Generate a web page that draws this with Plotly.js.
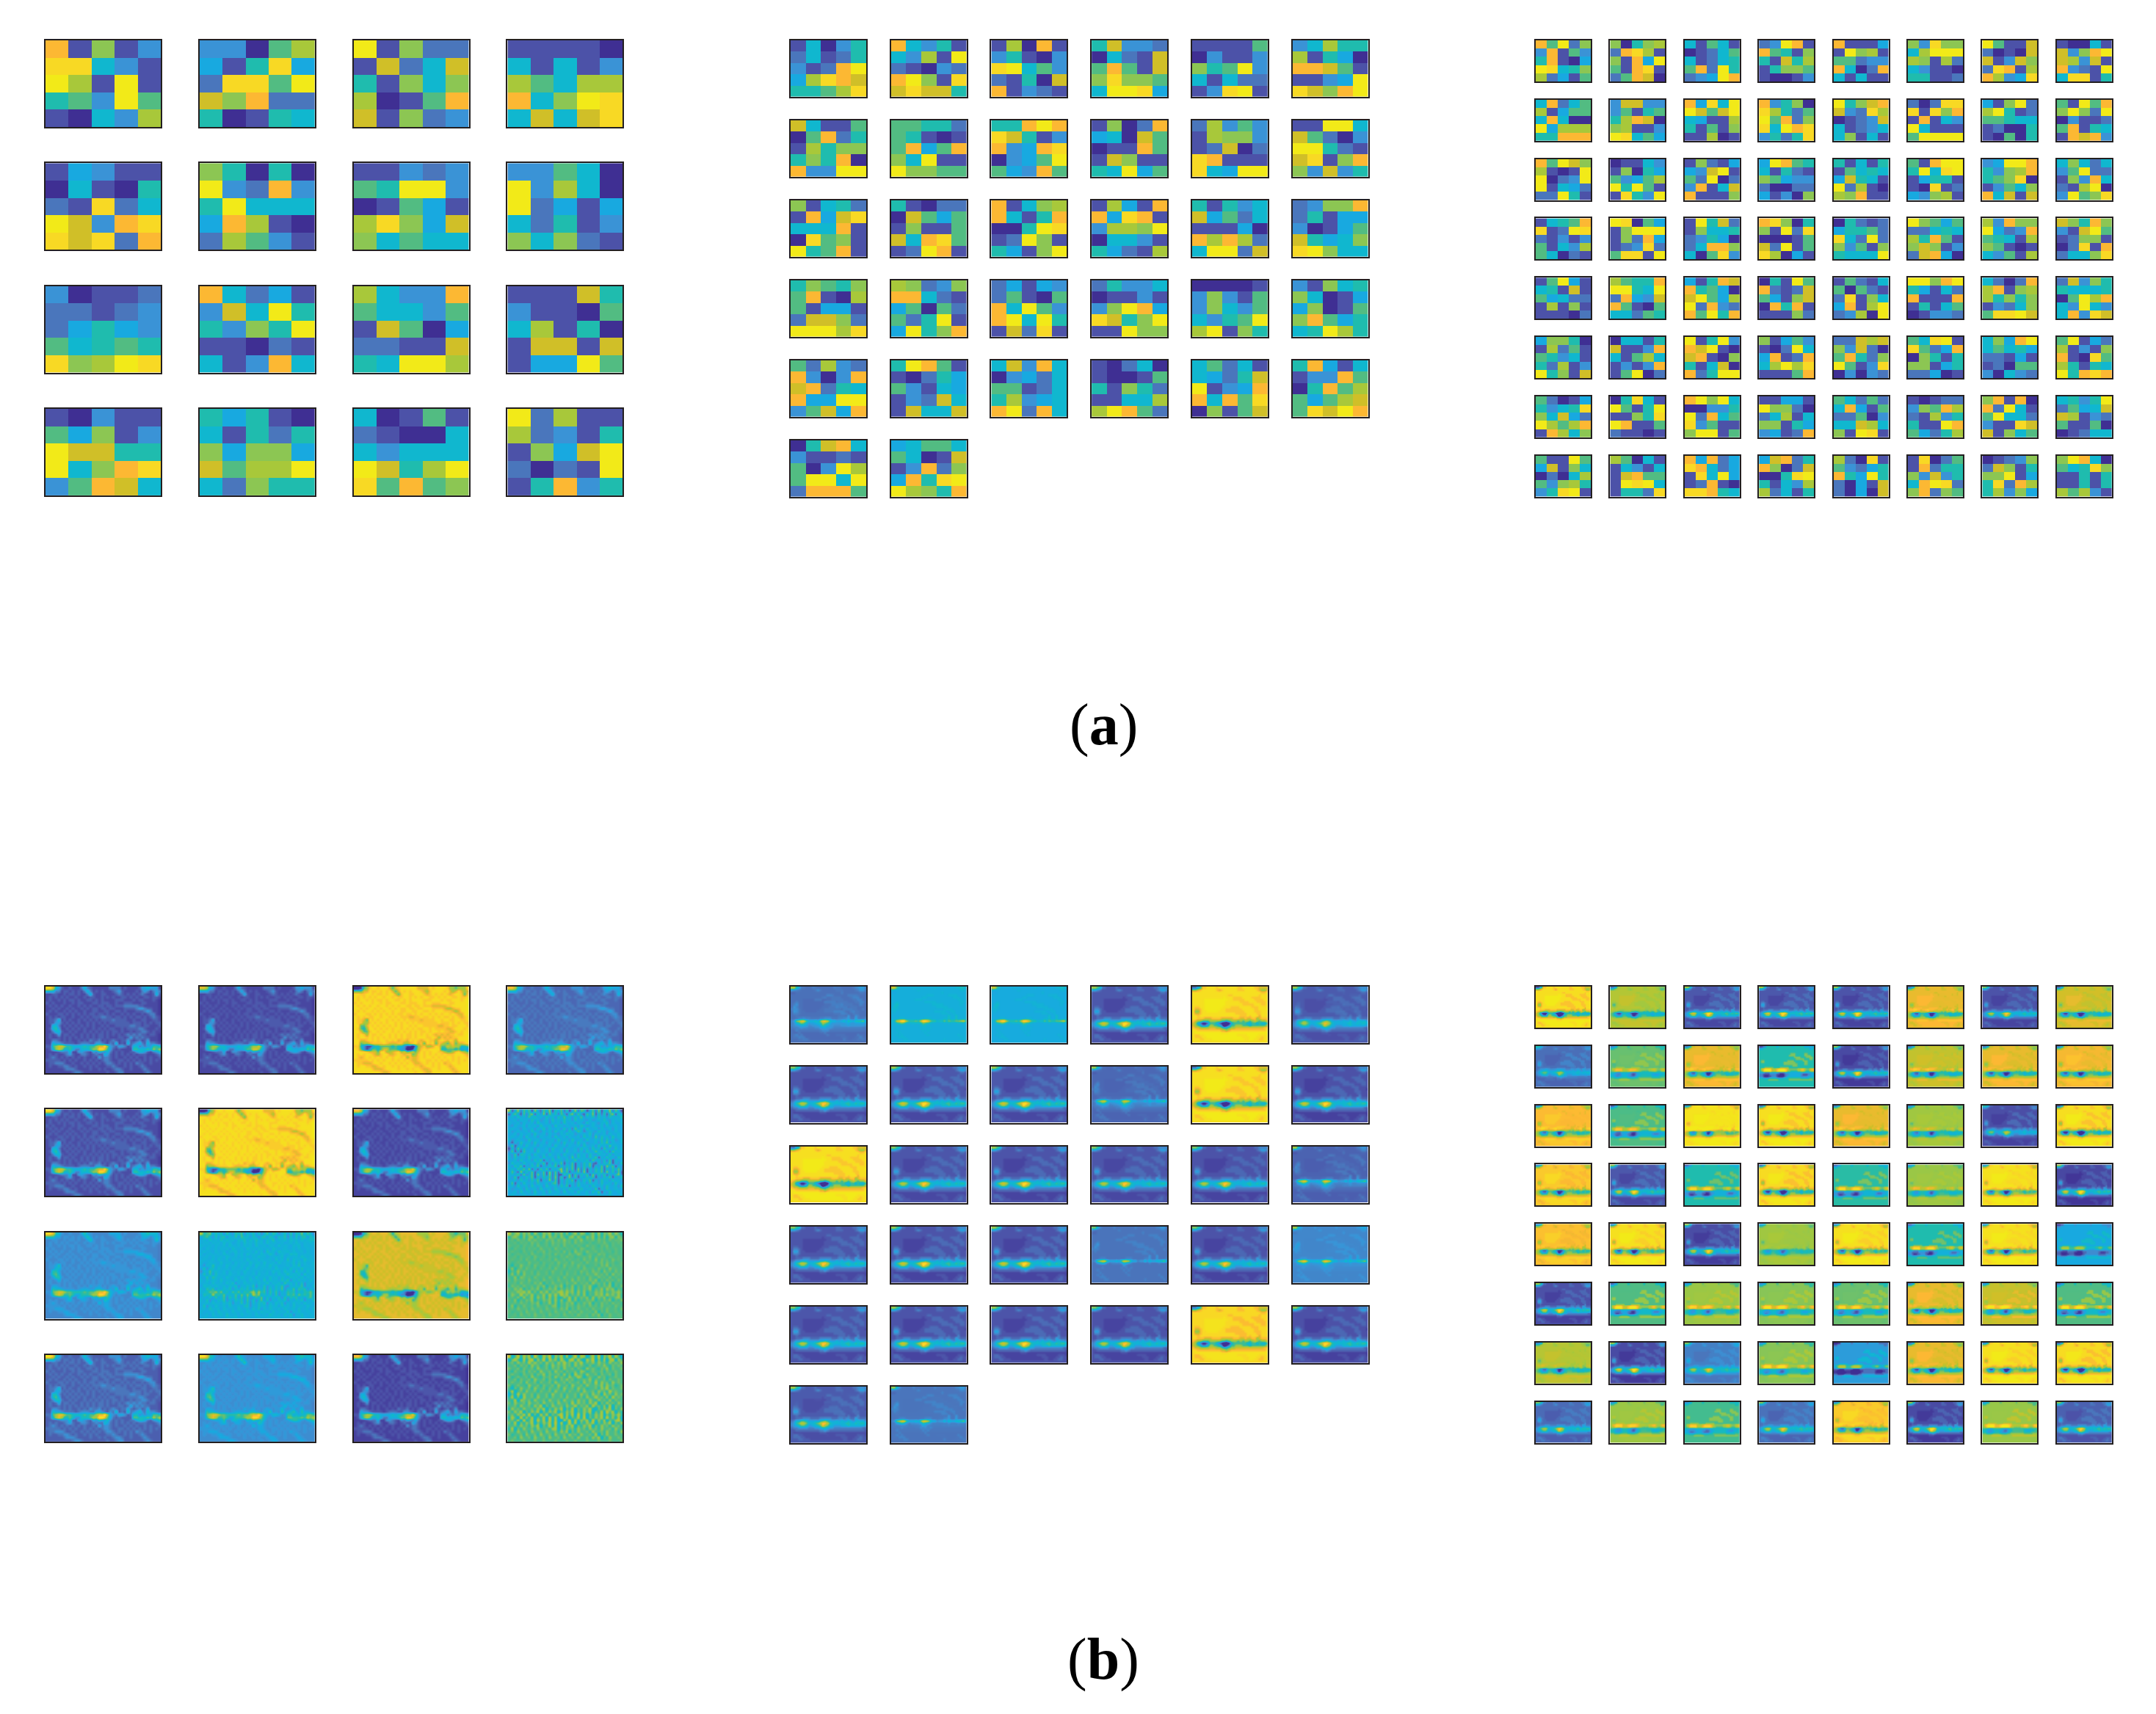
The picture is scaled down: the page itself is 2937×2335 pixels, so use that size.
<!DOCTYPE html>
<html>
<head>
<meta charset="utf-8">
<script src="https://cdn.plot.ly/plotly-3.0.1.min.js"></script>
<style>
    html, body { margin: 0; padding: 0; background: #fff; }
</style>
</head>
<body>
<div id="chart"></div>
<script>
// colour levels 0..13 (written as hex digits in the cell strings)
const levelColors = ['#3f2f93', '#4c52a8', '#4a76bc', '#3a93d6', '#18a9e0', '#10b7cf', '#1fbcae',
    '#52bc82', '#8cc653', '#a8c83a', '#d0bf28', '#fcb833', '#f8d924', '#f2ea18'];

// panel (a), 5x5 cells per tile
const leftCells = [
    'b1813 cc531 d91d1 673d7 10539', '33079 416c4 2cc7d a8b22 60165', 'd1822 1a25a 61858 9017b a1823', '11110 51513 97599 b58dc 5a5ac',
    '14311 05106 21c25 da3bc cac2b', '86060 d32b3 6d555 4b910 29731', '11323 76dd3 01741 9c84a 85755', '33750 d3950 d2414 52613 85821',
    '30112 22123 24643 75676 c89dc', 'b5241 3a5d6 6386d 11021 513b5', '9533b 75537 1a704 2211a 65dd9', '111a6 31107 59160 1aa1a 144d7',
    '10311 74813 daa66 d58bc 37ba5', '64610 51626 84884 a799d 52866', '50171 21005 53555 da69d c7b78', 'd2911 92316 184ad 2021d 16b36'
];
const midCells = [
    '15036 25126 312bd 49cba 6679c', 'b5361 5391d 21032 bd81c acaa6', '190b1 36103 cd573 2160a b1321', '6a332 0521a 7b71a 8c887 5ddc4', '11117 03113 867d3 51522 13cd1', '35966 91640 bba71 1134d ca8bd',
    'a5117 07b26 19688 686b0 b33dd', '77662 76101 7b47b 85d11 d8877', '66bdb ca613 b34bc 0347d 743b7', '1802b 450a7 011b7 1a811 65d47', '29373 19883 12a02 cb111 c54dd', '11dd5 a7203 dd621 ac18b 83a36',
    '81562 1b4ac 555b1 0c781 d67b1', '61022 0a747 18117 a5bc7 12db1', 'b1589 b516b 006dc 12d81 6418d', '194 1b b4cb1 39 98d 05531 64219',
    '61635 a4725 11140 b9b92 5dd2a', '2388b 26144 30147 a6458 cd855',
    '68768 7b109 71441 2aa82 ddd9c', '98238 bb521 47072 726d1 4d68b', '24143 27107 b5d73 bd5d6 1a2c1', '26335 01131 38db4 ca68d 11d88', '00001 38317 38537 5367d 9d186', '31856 85014 48017 8b746 56d96',
    '72932 b303b ab265 b44dd 37a4b', '6db71 10264 73154 132a5 1a55a', '5a3b5 03425 77125 69345 bd2b5', '10250 10017 61862 11559 9db72', '57251 5426a d134b b5b7c 0817a', '6b415 133b7 06b79 7479a 7cadb',
    '06ab5 31121 703d9 7dd5d 2bbb7', '45775 750 1a 13b28 4b6cd d986b'
].map(t => t.replace(/ /g, '').match(/.{5}/g).join(' '));
const rightCells = [
    'b7d28 3b173 6b104 dc568 92417', '806 89 2bc91 81b4d 71bc1 27ba0', '51751 01257 51256 7b2d6 234db', '23db1 b7618 61a69 16887 10013', 'b1114 1d891 77233 b502b 51511', '83c88 59ddd 98192 53110 66112', 'd711a 2010a a13a8 2cb19 b934c', '10051 a38bd a93a1 b321d 5cc16',
    '5b257 91477 5b500 d4999 66bbb', '3aa33 37167 69ba0 89113 dc574', 'b4c5d da7ad 54119 61718 11901', 'b3680 c9627 d7b28 c5dbc 3626c', 'd68ab a32c9 0123a 51235 58151', '202cc c1c8b 1b153 d5111 7dddd', '418d2 9d612 77655 12006 10706', '71d7b 8d82d 03112 7b165 1bab3',
    'b7da8 9101d d023d d1542 22d61', '01153 18064 73479 d6d71 1c63d', '18214 43ad1 72d02 3b15a b1118', '4db76 51621 87433 20022 41308', '61516 17565 4a651 d2910 98b11', '71bdd 6d5cd 14661 10c12 43891', '34ddb 6389b 678c0 13758 b5a1a', '58525 37d22 183b5 219d0 3d78c',
    '1567b c12dc 21313 71539 75021', 'dc074 18ddd 182b4 123c2 7cc1d', '1d6a2 18556 23640 25bb8 507c3', 'bc806 81d2c 00017 a2d17 c9041', '06212 46672 c52d2 83718 6555d', 'd8747 22565 96b71 8a813 2ab40', '93b88 d423b 76519 87101 53719', 'a86b8 31ad7 12881 02c1b 2558c',
    '17d41 561a1 74522 19181 11102', '9766b dd65d 2b43a b7107 55276', '416ba b6740 ad749 d2b32 b7d6b', '061d7 b212a 7418a 0b6b1 11182', '17215 70721 2c185 4b19d 2390d', 'dd8bd 64152 b111b 16157 01332', '5202b 9b189 96868 13258 7ccda', '2a386 65556 07d9b 53d53 5b3ca',
    '48860 19271 76351 6291 3 d681a', '05516 a113b 51795 1313b 17d02', 'd16d3 bad10 ab108 615a0 b26dd', '81473 1 02d5 4b12b 59d9c 11 17b', '22a9a 83a20 7b628 d713c 03032', '75cd1 c724b 08616 88146 22401', '584bd 57564 22141 12077 30532', '7d142 91318 b10c7 96165 d6bcb',
    '72014 6356c 85a42 d979b 1b958', '06c51 d716d 1186c db117 21101', 'bd8d5 00336 d2b57 c3711 8dd17', '11441 d8820 25915 88164 3412b', '75272 5b417 22703 55a95 81dc1', '10122 387b9 21936 611db 74269', '8b1b0 b2d51 7d552 311ca a1857', '5636d 2745a a9132 71170 01255',
    '711d7 4a185 02059 73896 36cd1', '97051 15315 1ab77 1dcd5 16 62c', 'b4b24 cb524 1c5d4 12b10 ccb65', '4ab26 b802a 006cd 61539 92516', '9 20c1 7324 6 b64d6 2041a 2040a', '1c027 1b266 83a36 5bdc2 8b287', '01238 2a816 88d14 6c2b9 69384', '8db50 756c8 11616 11616 97931'
].map(t => t.replace(/ /g, '').match(/.{5}/g).join(' '));

// panel (b), shared motifs read from the enlarged tiles (digit = strength)
const netRows = [
    '9985421121113532111111333312111124454441', '5553312212121353121211123421111213431343',
    '1122112122121135211221112321212123211252', '1212121211211212211212121122121211221221',
    '1211212122121122121211112221112122111210', '2121112112122111221222112112221112211110',
    '1212121121121212112212212223333322111110', '1121211212112121221221221112222344322110',
    '1212112121211211221122112212111222343110', '2111221212121212212212121121212112123310',
    '1212122112112121222332212212121221212321', '1223512121121212121222232222112112211221',
    '1224421212121121212121222222212221212122', '1155312121212121211212112222233221221112',
    '1256411212121211212121221121222233211121', '1135521121211212121212122121121223321211',
    '1212412212112121212212121212323232212210', '1211212121212121212212111221242323221110',
    '1133212121121213223121232122421231241110', '1154432222123332244321325121523453253321',
    '2267887665555656678897432443125534344665', '1257875565335556779986421211116655565767',
    '1111233351144321435435312121122455421345', '1212112342113321232254212121212122211123',
    '1232121212121211214233212112121211212112', '2222212121211212121233211221212121212121',
    '1223332112112121212123321212121322112111', '1211223321211212121112232112121123211111',
    '1111112333211112112121123321121112321111', '1111111112332111111112112331111111232111'
];
const rippleRows = [
    '8148274718427481647271482761472816482741', '1574172681638174627416827317481627168164',
    '4536453746453645364745364735463645364546', '4453545364534536454645364543534546435454',
    '5445354453644535453644535436454354635445', '4354453545364453645354453653454453544544',
    '4544354453546354453635274536445354453544', '5345445364435453645436447524543645344544',
    '4453544536445354435464534454635445354454', '4544536445354453644535445364537364536454',
    '5345443644535445364453644536445463645345', '4153644536445354453644536453445364735445',
    '3714536445354453644535445364453645374544', '1527364453544536445354453645364527453645',
    '3715174453644535445364453536447453627454', '4371654536445364453644536453643645363544',
    '5364453644536445364453736453647153645364', '4453644536471536445364473546274536271544',
    '3645364453647153647153715364721536471536', '5364715364715364715364715364715371847153',
    '4536472815173715368273718271536471536473', '3741826371537182718371537281536471836271',
    '4537182471837182710738172647182637153682', '5371536471536472817138271536471536471536',
    '4453645364715382715364715364715364536453', '3715364453644536715364536453645364453644',
    '4536445364453644536471536445364453644536', '5344536445364453644536453644537153644544',
    '4453644536445364453644536445364715364454', '4544454445445444544454454445444544454445'
];
const glowRows = [
    '77652211112111111112211111223333', '44321111112321111112221111123443',
    '11111111111111111111111111111221', '11111111111111122111111111112111',
    '11111111111110111222211112222111', '11111000000000011222221111222211',
    '11111000000000111111222211122221', '11111000000000111111122222111221',
    '12211000000001112222111112221111', '13321000000011222222211111221110',
    '14421100000111222222221111222111', '13321111111111111122222111122111',
    '11211111111111111111222121113111', '11222333222233333222332332243222',
    '23445554444455654445454454345443', '34678875556789986555555665565665',
    '34567764455679875544455565555554', '23344443334456654433333333333322',
    '11222222222233432222222222222221', '10000000000011100000000000000000',
    '12211000000000000001111000001110', '12221100000000000000011100011211',
    '11122111000000000000001100112211', '11111111111111111111111111111111'
];
const thinRows = [
    '77421111121111111121111111122331', '21111111111211111111111111111221',
    '00111111111111111111121111111111', '11111111111111122211111122221111',
    '11111111111112211111111111222111', '11111111112221111111111111112211',
    '11211111111111222221111111111221', '12311111111111111222221111111211',
    '13211111111111111112222211111111', '22211111111111111111112222111121',
    '12111111111111111122222112211111', '11111111111111111111122211211111',
    '11111111111111111111111131131111', '11122211111111222111112231131112',
    '23789964445479985442335354455674', '11345421222235432111111121112111',
    '11111111111113211111111111111111', '11112111111121212111111111111111',
    '11211111111112121111111111111111', '11121111111111211111111111111111',
    '11212111111111121111111111112111', '11122211111111111111111111111211',
    '11111221111111111111112111111121', '11111111111111111111111111111111'
];
const dipoleRows = [
    '11224444443444444443444444333333', '33444444444444444444444444444334',
    '44444444444444444444444444444444', '44444444444444444444444444444444',
    '44444444444444444455544444554444', '44444444444444444555544444555544',
    '44444444444444444444555544455554', '44444444444444444444455555444554',
    '45544444444444445555444445554444', '45544444444444555555544444554444',
    '44444444444444555555554444554444', '44444444444444444445554444444444',
    '44455555444455555444444444444444', '46788886667888876555556677655677',
    '45788886667888875544445566544566', '33322233333222233333333333333333',
    '22111122221100122333333321112233', '22100112221000123333333322223333',
    '33222233332222334444444433333444', '44444555555444444555555555555554',
    '44444444444444444444444444444444', '44444444444444444444444444444444',
    '44444444444444444444444444444444', '44444444444444444444444444444444'
];
// digit -> colour level for the motifs
const motifLevels = [0, 0.5, 1.2, 2.2, 3.5, 5, 6.5, 8.5, 10.5, 13];

// per tile: background level, gain of first motif, gain of second motif
const leftBase = [0.3, 0.3, 12.8, 1.2, 0.4, 13, 0.2, 4, 2.2, 4.2, 11, 6.8, 0.9, 2.4, 0.1, 6.8];
const leftNet = [12, 10, -15, 10, 12, -15, 11, 0.5, 10, 3, -13, 1, 12, 10, 11, 0];
const leftRipple = [0, 0, 0, 0, 0, 0, 0, 4, 0, 2, 0, 1.5, 0, 0, 0, 3];

const midBase = [1.4, 4, 3.8, 0.7, 13, 0.8, 0.7, 0.7, 0.7, 1.2, 13, 0.5, 13, 0.7, 0.6, 0.7, 0.6, 1,
    0.7, 0.6, 0.6, 1.6, 0.6, 2.2, 0.7, 0.6, 0.6, 0.6, 12.6, 0.5, 0.8, 1.6];
const midGlow = [4, 0, 0, 12, -17, 9, 11, 12, 12, 3, -17, 12, -17, 11, 12, 11, 11, 3,
    11, 12, 12, 0, 11, 1, 11, 12, 12, 11, -16, 12, 10, 1];
const midThin = [8, 9, 9, 0, 0, 3, 0, 0, 0, 8, 0, 0, 0, 0, 0, 0, 0, 9,
    0, 0, 0, 9, 0, 9, 0, 0, 0, 0, 0, 0, 2, 9];

const rightBase = [13, 9.7, 0.7, 0.7, 0.6, 11, 0.6, 10.5, 1.5, 7.5, 11, 6, 0.3, 10, 11, 11.3,
    11.5, 7, 13, 13, 11, 9, 0.5, 13, 12, 0.7, 6, 12.8, 6.2, 8.7, 13, 0.2,
    11.7, 13, 0.4, 9, 13, 6, 13, 4, 0.5, 7, 8.7, 8, 7.5, 11, 10, 7,
    9.7, 0.3, 2, 8, 3.4, 11, 13, 12.8, 1.3, 8.7, 6.7, 1.5, 12, 0.3, 8.5, 1];
const rightGlow = [-18, -11, 12, 12, 12, -11, 11, -12, 8, -3, -11, 0, 12, -9, -12, -12,
    -11, -3, -11, -17, -11, -7, 10, -18, -13, 12, 0, -17, 0, -5, -14, 13,
    -12, -15, 12, -7, -15, 0, -14, 0, 12, -1, -4, -2, -2, -12, -6, -1,
    -9, 13, 9, -2, 0, -12, -15, -17, 10, -4, 0, 10, -12, 13, -2, 11];
const rightDipole = [0, 0.5, 0, 0, 0, 2, 0, 1, 1, 4, 2, 7, 0, 3, 1.5, 1.5,
    2, 5, 3, 0, 2, 2.5, 1, 0, 1, 0, 6, 0, 6, 3, 1, 0,
    1, 0.5, 0, 1, 0.5, 6, 1, 5, 0, 6, 4, 5, 5, 1, 4, 6,
    1.5, 0, 0, 5, 6, 1.5, 0.5, 0, 0, 4, 5, 0, 1.5, 0, 5, 0];

const panelLabels = ['(<b>a</b>)', '(<b>b</b>)'];

const FIG_W = 2937, FIG_H = 2335;
const colorscale = levelColors.map((c, i) => [i / 13, c]);

const traces = [];
const layout = {
    width: FIG_W,
    height: FIG_H,
    margin: { l: 0, r: 0, t: 0, b: 0, pad: 0 },
    paper_bgcolor: '#ffffff',
    plot_bgcolor: '#ffffff',
    showlegend: false,
    annotations: [
        { text: panelLabels[0], x: 1503 / FIG_W, y: 1 - 988 / FIG_H },
        { text: panelLabels[1], x: 1503 / FIG_W, y: 1 - 2260 / FIG_H }
    ].map(a => ({
        ...a, xref: 'paper', yref: 'paper', showarrow: false, xanchor: 'center', yanchor: 'middle',
        font: { family: 'Liberation Serif', size: 80, color: '#000000' }
    }))
};

const LINE_W = 2;
let axisCount = 0;
function addTile(z, x0, y0, w, h, smooth) {
    axisCount++;
    const suffix = axisCount === 1 ? '' : axisCount;
    const common = {
        showgrid: false, zeroline: false, showticklabels: false, ticks: '',
        showline: true, mirror: true, linecolor: '#231f20', linewidth: LINE_W, fixedrange: true
    };
    // the axis lines sit outside the domain, so pull the domain in by their width
    layout['xaxis' + suffix] = {
        ...common, anchor: 'y' + suffix,
        domain: [(x0 + LINE_W) / FIG_W, (x0 + w - LINE_W) / FIG_W]
    };
    layout['yaxis' + suffix] = {
        ...common, anchor: 'x' + suffix, autorange: 'reversed',
        domain: [1 - (y0 + h - LINE_W) / FIG_H, 1 - (y0 + LINE_W) / FIG_H]
    };
    traces.push({
        type: 'heatmap', z: z, xaxis: 'x' + suffix, yaxis: 'y' + suffix,
        colorscale: colorscale, zmin: 0, zmax: 13, showscale: false, hoverinfo: 'skip',
        zsmooth: smooth ? 'best' : false
    });
}

function parseCells(tile) {
    return tile.split(' ').map(row => row.split('').map(ch => parseInt(ch, 16)));
}
function motifToLevels(rows) {
    return rows.map(r => r.split('').map(ch => motifLevels[+ch] / 13));
}
function motifSigned(rows) {
    return rows.map(r => r.split('').map(ch => (+ch - 4) / 4));
}
// tile value = its background level plus the two hand-read motifs, each with the tile's gain
function mixTile(base, a, gainA, b, gainB) {
    return a.map((row, i) => row.map((v, j) => base + gainA * v + gainB * b[i][j]));
}

const groups = [
    { x0: 60, w: 161, dx: 209.8, h: 122, dy: 167.3, cols: 4 },
    { x0: 1075, w: 107, dx: 136.7, h: 80.5, dy: 109, cols: 6 },
    { x0: 2090, w: 79, dx: 101.4, h: 60, dy: 80.8, cols: 8 }
];
const TOP_A = 53, TOP_B = 1342;

function addGroup(g, top, tiles, smooth) {
    tiles.forEach((z, i) => {
        const col = i % g.cols, row = Math.floor(i / g.cols);
        addTile(z, g.x0 + col * g.dx, top + row * g.dy, g.w, g.h, smooth);
    });
}

addGroup(groups[0], TOP_A, leftCells.map(parseCells), false);
addGroup(groups[1], TOP_A, midCells.map(parseCells), false);
addGroup(groups[2], TOP_A, rightCells.map(parseCells), false);

const net = motifToLevels(netRows), ripple = motifSigned(rippleRows);
const glow = motifToLevels(glowRows), thin = motifToLevels(thinRows), dipole = motifSigned(dipoleRows);

addGroup(groups[0], TOP_B, leftBase.map((b, i) => mixTile(b, net, leftNet[i], ripple, leftRipple[i])), true);
addGroup(groups[1], TOP_B, midBase.map((b, i) => mixTile(b, glow, midGlow[i], thin, midThin[i])), true);
addGroup(groups[2], TOP_B, rightBase.map((b, i) => mixTile(b, glow, rightGlow[i], dipole, rightDipole[i])), true);

Plotly.newPlot('chart', traces, layout, { displayModeBar: false, staticPlot: true });
</script>
</body>
</html>
